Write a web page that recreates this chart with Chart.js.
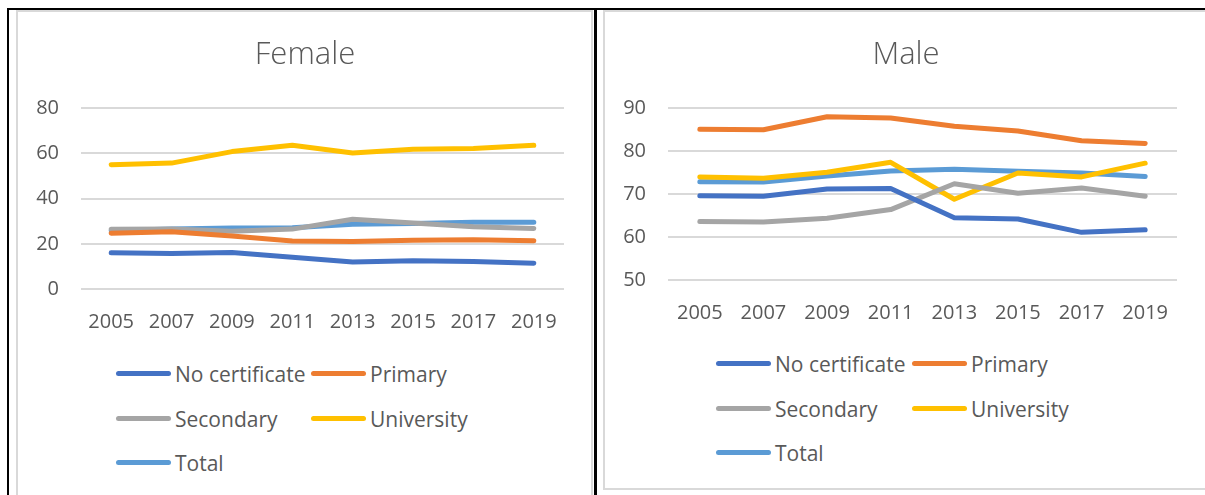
<!DOCTYPE html>
<html>
<head>
<meta charset="utf-8">
<script src="https://cdn.jsdelivr.net/npm/chart.js@4/dist/chart.umd.min.js"></script>
<style>
    body { margin: 0; background: #fff; width: 1205px; height: 495px; overflow: hidden; position: relative; font-family: "Open Sans", Lato, sans-serif; }
    .frame-top { position: absolute; left: 7px; top: 8px; width: 1198px; height: 2px; background: #000; }
    .frame-left { position: absolute; left: 7px; top: 8px; width: 2px; height: 487px; background: #000; }
    .frame-mid { position: absolute; left: 594px; top: 8px; width: 3px; height: 487px; background: #000; }
    .box { position: absolute; border: 2px solid #d9d9d9; box-sizing: border-box; background: #fff; }
    #box-female { left: 16px; top: 10px; width: 577px; height: 500px; }
    #box-male { left: 603px; top: 10px; width: 620px; height: 480px; }
    canvas { position: absolute; }
    .legend { position: absolute; font-size: 21px; color: #595959; }
    .legend .item { position: absolute; height: 24px; line-height: 24px; white-space: nowrap; }
    .legend .swatch { position: absolute; top: 9px; height: 5px; border-radius: 3px; }
    .legend .text { position: absolute; top: 0; }
</style>
</head>
<body>
<div class="frame-top"></div>
<div class="frame-left"></div>
<div class="box" id="box-female"></div>
<div class="box" id="box-male"></div>
<div class="frame-mid"></div>
<canvas id="female" width="600" height="329" style="left:18px; top:10px; width:600px; height:329px;"></canvas>
<canvas id="male" width="600" height="320" style="left:606px; top:10px; width:600px; height:320px;"></canvas>
<div class="legend" id="legend-female"></div>
<div class="legend" id="legend-male"></div>
<script>
const years = ['2005', '2007', '2009', '2011', '2013', '2015', '2017', '2019'];
const seriesNames = ['No certificate', 'Primary', 'Secondary', 'University', 'Total'];
const seriesColors = ['#4472C4', '#ED7D31', '#A5A5A5', '#FFC000', '#5B9BD5'];

// Female
const femaleNoCert = [16.0, 15.7, 16.2, 14.0, 11.9, 12.5, 12.2, 11.4];
const femalePrimary = [24.7, 25.3, 23.4, 21.2, 21.0, 21.6, 21.8, 21.3];
const femaleSecondary = [26.4, 26.5, 25.6, 26.5, 30.9, 29.2, 27.5, 26.8];
const femaleUniversity = [55.0, 55.7, 60.8, 63.6, 60.2, 61.8, 62.2, 63.6];
const femaleTotal = [25.8, 26.5, 27.0, 27.1, 28.6, 29.0, 29.5, 29.5];
const femaleTicks = { min: 0, max: 80, step: 20 };

// Male
const maleNoCert = [69.6, 69.5, 71.2, 71.3, 64.5, 64.2, 61.1, 61.7];
const malePrimary = [85.1, 85.0, 88.0, 87.7, 85.8, 84.7, 82.4, 81.8];
const maleSecondary = [63.6, 63.5, 64.4, 66.4, 72.4, 70.2, 71.4, 69.5];
const maleUniversity = [74.0, 73.7, 75.1, 77.4, 68.8, 74.9, 74.0, 77.2];
const maleTotal = [72.9, 72.8, 74.2, 75.4, 75.8, 75.3, 74.9, 74.1];
const maleTicks = { min: 50, max: 90, step: 10 };

const textColor = '#595959';
const gridColor = '#d9d9d9';
const tickFont = { family: 'Open Sans', size: 20 };

function makeChart(id, title, values, ticks, layout) {
    const datasets = values.map((data, i) => ({
        label: seriesNames[i],
        data,
        borderColor: seriesColors[i],
        backgroundColor: seriesColors[i],
        borderWidth: 5,
        pointRadius: 0,
        tension: 0,
        borderCapStyle: 'round',
        borderJoinStyle: 'round'
    }));
    return new Chart(document.getElementById(id), {
        type: 'line',
        data: { labels: years, datasets },
        options: {
            responsive: false,
            animation: false,
            events: [],
            layout: { padding: { left: 0, right: layout.padRight, top: 0, bottom: 0 } },
            plugins: {
                legend: { display: false },
                tooltip: { enabled: false },
                title: {
                    display: true,
                    text: title,
                    color: textColor,
                    font: { family: 'Open Sans', size: 31, weight: '300', lineHeight: 1.2 },
                    padding: { top: layout.titleTop, bottom: layout.titleBottom }
                }
            },
            scales: {
                x: {
                    offset: true,
                    grid: { display: false, drawTicks: false },
                    border: { display: false },
                    ticks: { color: textColor, font: tickFont, padding: 21, maxRotation: 0, autoSkip: false },
                    afterFit: s => { s.height = 50; }
                },
                y: {
                    min: ticks.min,
                    max: ticks.max,
                    grid: { color: gridColor, lineWidth: 2, drawTicks: false },
                    border: { display: false },
                    ticks: { stepSize: ticks.step, color: textColor, font: tickFont, padding: 22 },
                    afterFit: s => { s.width = layout.yWidth; }
                },
                // empty right-hand axis, only reserves room so the title stays centred on the panel
                spacer: {
                    position: 'right',
                    grid: { display: false, drawTicks: false },
                    border: { display: false },
                    ticks: { display: false },
                    afterFit: s => { s.width = layout.spacer; }
                }
            }
        }
    });
}

function makeLegend(id, pos) {
    const el = document.getElementById(id);
    seriesNames.forEach((name, i) => {
        const row = Math.floor(i / 2), col = i % 2;
        const item = document.createElement('div');
        item.className = 'item';
        item.style.left = pos.cols[col] + 'px';
        item.style.top = (pos.rows[row] - 12) + 'px';
        item.innerHTML = `<span class="swatch" style="left:0;width:${pos.swatch}px;background:${seriesColors[i]}"></span>` +
            `<span class="text" style="left:${pos.swatch + 4}px">${name}</span>`;
        el.appendChild(item);
    });
}

makeChart('female', 'Female',
    [femaleNoCert, femalePrimary, femaleSecondary, femaleUniversity, femaleTotal],
    femaleTicks, { padRight: 26, yWidth: 63, spacer: 28, titleTop: 27, titleBottom: 34 });

makeChart('male', 'Male',
    [maleNoCert, malePrimary, maleSecondary, maleUniversity, maleTotal],
    maleTicks, { padRight: 0, yWidth: 62, spacer: 29, titleTop: 27, titleBottom: 34 });

makeLegend('legend-female', { cols: [116, 311], rows: [374, 419, 463], swatch: 55 });
makeLegend('legend-male', { cols: [716, 912], rows: [364, 409, 453], swatch: 55 });
</script>
</body>
</html>
